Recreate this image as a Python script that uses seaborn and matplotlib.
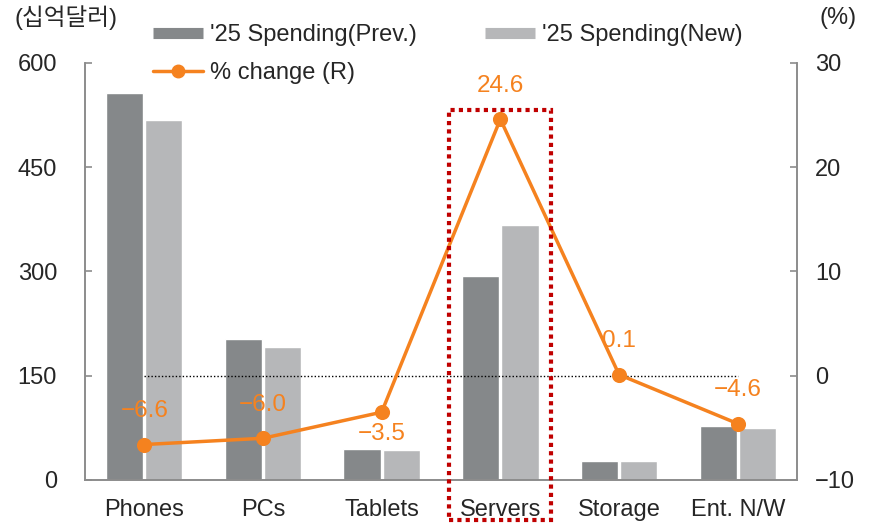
import pandas as pd
import matplotlib.pyplot as plt
import matplotlib.transforms as mtransforms
from matplotlib.patches import Rectangle
from matplotlib.lines import Line2D
import seaborn as sns

# --- dados ---
categorias = ['Phones', 'PCs', 'Tablets', 'Servers', 'Storage', 'Ent. N/W']
gasto_prev = [556, 203, 44, 294, 27, 78]
gasto_novo = [518, 191, 43, 367, 27, 75]
var_pct = [-6.6, -6.0, -3.5, 24.6, 0.1, -4.6]
rotulos_series = ["'25 Spending(Prev.)", "'25 Spending(New)"]
rotulo_linha = '% change (R)'
destaque = 'Servers'

cor_prev = '#85888a'
cor_novo = '#b6b7b9'
laranja = '#f5821f'
cinza_eixo = '#8c8c8c'
fs = 17

df = pd.DataFrame({
    'cat': categorias * 2,
    'valor': gasto_prev + gasto_novo,
    'serie': [rotulos_series[0]] * len(categorias) + [rotulos_series[1]] * len(categorias),
})

sns.set_theme(style='white')
plt.rcParams['font.family'] = ['Liberation Sans', 'Noto Sans CJK KR', 'DejaVu Sans']

fig = plt.figure(figsize=(8.75, 5.24), dpi=100)
ax = fig.add_axes([0.097, 0.084, 0.814, 0.796])

sns.barplot(data=df, x='cat', y='valor', hue='serie', palette=[cor_prev, cor_novo],
            saturation=1, width=0.66, gap=0.05, ax=ax, legend=False)

ax2 = ax.twinx()
sns.pointplot(x=categorias, y=var_pct, ax=ax2, color=laranja, markersize=9,
              linewidth=2.5)
ax2.hlines(0, 0, len(categorias) - 1, colors='black', linestyles=(0, (1, 1.5)), lw=1, zorder=1)

# rótulos dos valores
for i, v in enumerate(var_pct):
    txt = f'{v:.1f}'.replace('-', '\u2212')
    dy = -16 if categorias[i] == 'Tablets' else 24
    ax2.annotate(txt, (i, v), xytext=(0, dy), textcoords='offset points',
                 ha='center', va='center', color=laranja, fontsize=17.5)

# eixos
ax.set_xlim(-0.5, len(categorias) - 0.5)
ax2.set_xlim(-0.5, len(categorias) - 0.5)
ax.set_ylim(0, 600)
ax.set_yticks([0, 150, 300, 450, 600])
ax2.set_ylim(-10, 30)
ax2.set_yticks([-10, 0, 10, 20, 30])
ax2.set_yticklabels(['\u221210', '0', '10', '20', '30'])
ax.set_xlabel('')
ax.set_ylabel('')
ax2.set_ylabel('')

for a in (ax, ax2):
    for lado in ['left', 'right', 'bottom']:
        a.spines[lado].set_color(cinza_eixo)
        a.spines[lado].set_linewidth(1.2)
    a.spines['top'].set_visible(False)

ax.set_xticks(range(len(categorias)))
ax.set_xticklabels(categorias)
ax.set_xticks([i + 0.5 for i in range(len(categorias) - 1)], minor=True)
ax.tick_params(axis='x', which='major', length=0, pad=14, labelsize=fs)
ax.tick_params(axis='x', which='minor', direction='in', length=5, color=cinza_eixo, width=1.2)
ax.tick_params(axis='y', direction='in', length=5, color=cinza_eixo, width=1.2, pad=20, labelsize=fs, left=True)
ax2.tick_params(axis='y', direction='in', length=5, color=cinza_eixo, width=1.2, pad=13, labelsize=fs, right=True)
ax.grid(False)
ax2.grid(False)

# caixa pontilhada em volta de Servers
idx = categorias.index(destaque)
trans = mtransforms.blended_transform_factory(ax.transData, ax.transAxes)
ax2.add_patch(Rectangle((idx - 0.43, -0.096), 0.86, 0.983, transform=trans, fill=False,
                        edgecolor='#c00000', linestyle=(0, (1, 1)), linewidth=3,
                        clip_on=False, zorder=5))

# legenda
handles = [
    Line2D([], [], color=cor_prev, lw=8, solid_capstyle='butt'),
    Line2D([], [], color=laranja, lw=2.5, marker='o', markersize=9),
    Line2D([], [], color=cor_novo, lw=8, solid_capstyle='butt'),
]
labels = [rotulos_series[0], rotulo_linha, rotulos_series[1]]
fig.legend(handles, labels, ncol=2, loc='upper left', bbox_to_anchor=(0.164, 0.972),
           borderaxespad=0, frameon=False, fontsize=fs, handlelength=2.1, handletextpad=0.3,
           columnspacing=2.9, labelspacing=0.69)

fig.text(15 / 875, 1 - 18 / 524, '(십억달러)', fontsize=fs, va='center', ha='left')
fig.text(838 / 875, 1 - 18 / 524, '(%)', fontsize=fs, va='center', ha='center')

plt.savefig('out.png', dpi=100)
